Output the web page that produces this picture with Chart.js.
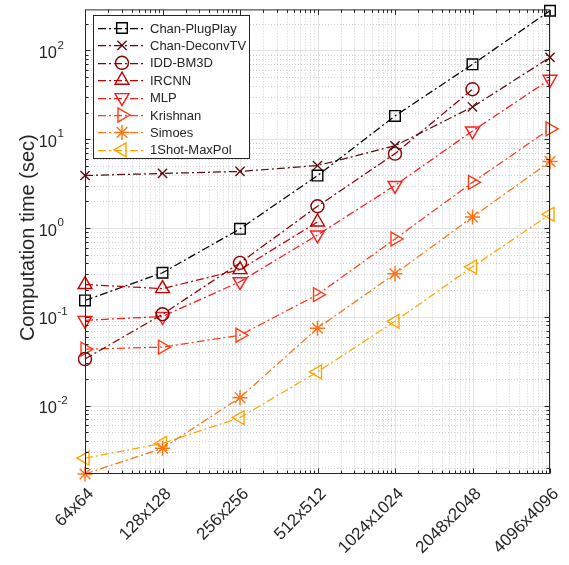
<!DOCTYPE html>
<html>
<head>
<meta charset="utf-8">
<script src="https://cdn.jsdelivr.net/npm/chart.js@4.4.1/dist/chart.umd.min.js"></script>
<style>
  html, body { margin: 0; padding: 0; background: #fff; }
  #wrap { width: 569px; height: 565px; position: relative; }
</style>
</head>
<body>
<div id="wrap"><canvas id="c"></canvas></div>
<script>
// Image sizes (x categories) and computation time in seconds per method
const sizes = ['64x64', '128x128', '256x256', '512x512', '1024x1024', '2048x2048', '4096x4096'];
const chanPlugPlay = [0.153, 0.314, 0.98, 3.9, 18.3, 69.8, 280];
const chanDeconvTV = [3.91, 4.12, 4.34, 5.06, 8.45, 23.1, 83.5];
const iddBM3D = [0.0335, 0.107, 0.406, 1.76, 6.89, 36.6, null];
const ircnn = [0.231, 0.208, 0.34, 1.17, null, null, null];
const mlp = [0.0914, 0.101, 0.249, 0.836, 3.02, 12.4, 47.4];
const krishnan = [0.0433, 0.0456, 0.0621, 0.178, 0.753, 3.27, 13.1];
const simoes = [0.0017, 0.00331, 0.0123, 0.0745, 0.306, 1.33, 5.61];
const oneShotMaxPol = [0.00256, 0.00376, 0.00734, 0.024, 0.0891, 0.366, 1.43];
const yMajorTicks = [0.01, 0.1, 1, 10, 100];
const yExponents = ['-2', '-1', '0', '1', '2'];

const FONT = "'Liberation Sans', Arial, Helvetica, sans-serif";
const AXIS = '#262626';
const Y_MIN = 0.0017, Y_MAX = 290;

Chart.defaults.animation = false;

function series(label, data, color, pointStyle, radius, rotation) {
  return {
    label, data,
    borderColor: color,
    pointBorderColor: color,
    backgroundColor: 'rgba(0,0,0,0)',
    pointBackgroundColor: 'rgba(0,0,0,0)',
    borderWidth: 1.25,
    borderDash: [8, 3, 2, 3],
    pointStyle, pointRadius: radius, pointHoverRadius: radius,
    pointRotation: rotation || 0,
    pointBorderWidth: 1.4,
    tension: 0, spanGaps: false, clip: false, fill: false,
  };
}

function hline(ctx, x0, x1, y) { ctx.beginPath(); ctx.moveTo(x0, y); ctx.lineTo(x1, y); ctx.stroke(); }
function vline(ctx, x, y0, y1) { ctx.beginPath(); ctx.moveTo(x, y0); ctx.lineTo(x, y1); ctx.stroke(); }

function yMinorValues() {
  const out = [];
  for (let k = -3; k <= 2; k++) for (let m = 2; m <= 9; m++) {
    const v = m * Math.pow(10, k);
    if (v > Y_MIN && v < Y_MAX) out.push(v);
  }
  return out;
}

function xMinorPixels(x) {
  const out = [];
  for (let i = 0; i < sizes.length - 1; i++) {
    const p0 = x.getPixelForValue(i), p1 = x.getPixelForValue(i + 1);
    for (let m = 2; m <= 9; m++) out.push(p0 + Math.log10(m) * (p1 - p0));
  }
  return out;
}

// MATLAB-like axes: dotted minor grid, solid major grid, boxed frame with inward ticks
const frame = {
  id: 'frame',
  beforeDatasetsDraw(chart) {
    const { ctx, chartArea: a, scales: { x, y } } = chart;
    ctx.save();
    ctx.lineWidth = 1;
    ctx.strokeStyle = '#cfcfcf';
    ctx.setLineDash([1, 2]);
    yMinorValues().forEach(v => hline(ctx, a.left, a.right, Math.round(y.getPixelForValue(v)) + 0.5));
    xMinorPixels(x).forEach(px => vline(ctx, Math.round(px) + 0.5, a.top, a.bottom));
    ctx.setLineDash([]);
    ctx.strokeStyle = '#e2e2e2';
    yMajorTicks.forEach(v => hline(ctx, a.left, a.right, Math.round(y.getPixelForValue(v)) + 0.5));
    sizes.forEach((s, i) => vline(ctx, Math.round(x.getPixelForValue(i)) + 0.5, a.top, a.bottom));
    ctx.restore();
  },
  afterDatasetsDraw(chart) {
    const { ctx, chartArea: a, scales: { x, y } } = chart;
    const L = a.left + 0.5, R = Math.round(a.right) - 0.5, T = a.top + 0.5, B = Math.round(a.bottom) - 0.5;
    ctx.save();
    ctx.lineWidth = 1;
    ctx.strokeStyle = AXIS;
    ctx.setLineDash([]);
    ctx.strokeRect(L, T, R - L, B - T);
    // ticks
    yMajorTicks.forEach(v => { const p = Math.round(y.getPixelForValue(v)) + 0.5; hline(ctx, L, L + 5, p); hline(ctx, R - 5, R, p); });
    yMinorValues().forEach(v => { const p = Math.round(y.getPixelForValue(v)) + 0.5; hline(ctx, L, L + 3, p); hline(ctx, R - 3, R, p); });
    sizes.forEach((s, i) => { const p = Math.round(x.getPixelForValue(i)) + 0.5; vline(ctx, p, B - 5, B); vline(ctx, p, T, T + 5); });
    xMinorPixels(x).forEach(px => { const p = Math.round(px) + 0.5; vline(ctx, p, B - 3, B); vline(ctx, p, T, T + 3); });
    // y tick labels 10^k
    ctx.fillStyle = AXIS;
    ctx.textBaseline = 'middle';
    yMajorTicks.forEach((v, i) => {
      const p = y.getPixelForValue(v);
      ctx.font = '16.5px ' + FONT;
      ctx.textAlign = 'right';
      ctx.fillText('10', 57, p + 3);
      ctx.font = '11.5px ' + FONT;
      ctx.textAlign = 'left';
      ctx.fillText(yExponents[i], 57.5, p - 5);
    });
    // y axis title
    ctx.save();
    ctx.translate(28, (a.top + a.bottom) / 2 - 4);
    ctx.rotate(-Math.PI / 2);
    ctx.font = '20px ' + FONT;
    ctx.textAlign = 'center';
    ctx.fillText('Computation time (sec)', 0, 0);
    ctx.restore();
    // legend
    const lx = 93.5, ly = 15.5, lw = 156, lh = 143;
    ctx.fillStyle = '#fff';
    ctx.fillRect(lx, ly, lw, lh);
    ctx.strokeStyle = AXIS;
    ctx.lineWidth = 1;
    ctx.strokeRect(lx, ly, lw, lh);
    chart.data.datasets.forEach((ds, i) => {
      const cy = 28 + i * 17.4;
      ctx.strokeStyle = ds.borderColor;
      ctx.lineWidth = ds.borderWidth;
      ctx.setLineDash(ds.borderDash);
      hline(ctx, 98, 146, Math.round(cy) + 0.5);
      ctx.setLineDash([]);
      ctx.lineWidth = ds.pointBorderWidth;
      ctx.fillStyle = 'rgba(0,0,0,0)';
      Chart.helpers.drawPoint(ctx, { pointStyle: ds.pointStyle, rotation: ds.pointRotation, radius: ds.pointRadius, borderWidth: ds.pointBorderWidth }, 122, cy);
      ctx.fillStyle = AXIS;
      ctx.font = '13px ' + FONT;
      ctx.textAlign = 'left';
      ctx.textBaseline = 'middle';
      ctx.fillText(ds.label, 150, cy + 1);
    });
    ctx.restore();
  },
};

new Chart(document.getElementById('c'), {
  type: 'line',
  data: {
    labels: sizes,
    datasets: [
      series('Chan-PlugPlay', chanPlugPlay, '#000000', 'rect', 7.5),
      series('Chan-DeconvTV', chanDeconvTV, '#5a0d0d', 'crossRot', 6.5),
      series('IDD-BM3D', iddBM3D, '#8b0000', 'circle', 6.5),
      series('IRCNN', ircnn, '#c40000', 'triangle', 8),
      series('MLP', mlp, '#ff1a1a', 'triangle', 8, 180),
      series('Krishnan', krishnan, '#ff3c14', 'triangle', 8, 90),
      series('Simoes', simoes, '#ff7314', 'star', 7.5),
      series('1Shot-MaxPol', oneShotMaxPol, '#ffa500', 'triangle', 8, 270),
    ],
  },
  options: {
    responsive: true, maintainAspectRatio: false,
    layout: { padding: { top: 5, right: 19, left: 0, bottom: 0 } },
    plugins: { legend: { display: false }, tooltip: { enabled: false } },
    scales: {
      x: {
        type: 'category', offset: false,
        grid: { display: false }, border: { display: false },
        ticks: { font: { family: FONT, size: 17 }, color: AXIS, minRotation: 45, maxRotation: 45, padding: 2, labelOffset: 6, autoSkip: false },
        afterFit: s => { s.height = 91; },
      },
      y: {
        type: 'logarithmic', min: Y_MIN, max: Y_MAX,
        grid: { display: false }, border: { display: false },
        ticks: { display: false },
        afterFit: s => { s.width = 85; },
      },
    },
  },
  plugins: [frame],
});
</script>
</body>
</html>
